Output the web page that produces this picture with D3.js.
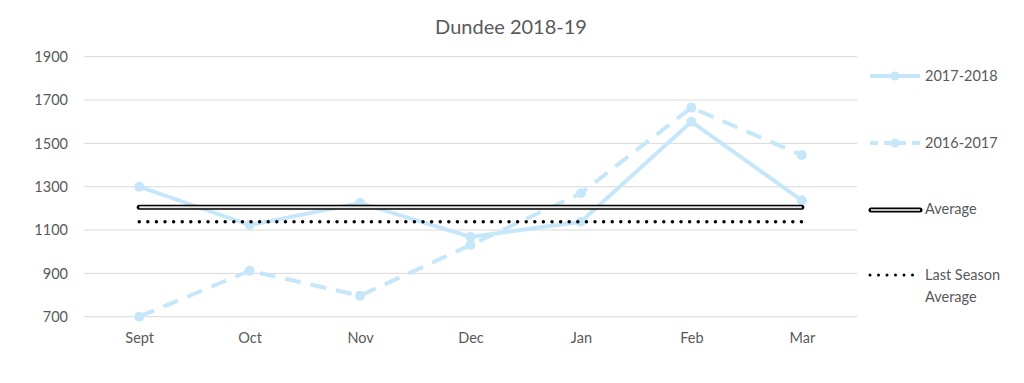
<!DOCTYPE html>
<html lang="en">
<head>
<meta charset="utf-8" />
<title>Dundee 2018-19</title>
<style>
  body { margin: 0; background: #fff; }
  svg text { font-family: Lato, "Open Sans", sans-serif; fill: #595959; }
</style>
<script src="https://cdn.jsdelivr.net/npm/d3@7"></script>
</head>
<body>
<script>
// data
var months = ['Sept', 'Oct', 'Nov', 'Dec', 'Jan', 'Feb', 'Mar'];
var season1718 = [1300, 1123, 1225, 1068, 1138, 1600, 1237];
var season1617 = [700, 912, 797, 1031, 1270, 1665, 1446];
var average = 1205;
var lastSeasonAverage = 1138;
var yTicks = [700, 900, 1100, 1300, 1500, 1700, 1900];

var width = 1024, height = 383;
var plotLeft = 84, plotRight = 857, plotTop = 56.7, plotBottom = 316.7;
var blue = '#c6e7fa';

var svg = d3.select('body').append('svg')
    .attr('width', width)
    .attr('height', height);

var x = d3.scalePoint().domain(months).range([plotLeft, plotRight]).padding(0.5);
var y = d3.scaleLinear().domain([700, 1900]).range([plotBottom, plotTop]);

// title
svg.append('text')
    .attr('x', 511).attr('y', 34)
    .attr('text-anchor', 'middle')
    .style('font-size', '20px')
    .text('Dundee 2018-19');

// gridlines
svg.append('g')
    .selectAll('line')
    .data(yTicks)
    .enter().append('line')
    .attr('x1', plotLeft).attr('x2', plotRight)
    .attr('y1', function(d) { return y(d); })
    .attr('y2', function(d) { return y(d); })
    .attr('stroke', '#d9d9d9').attr('stroke-width', 1);

// y axis
var yAxis = svg.append('g')
    .attr('transform', 'translate(' + plotLeft + ',0)')
    .call(d3.axisLeft(y).tickValues(yTicks).tickFormat(d3.format('d')).tickSize(0).tickPadding(16));
yAxis.select('.domain').remove();
yAxis.selectAll('text').style('font-size', '14.5px').attr('fill', '#595959');

// x axis
var xAxis = svg.append('g')
    .attr('transform', 'translate(0,' + plotBottom + ')')
    .call(d3.axisBottom(x).tickSize(0).tickPadding(16));
xAxis.select('.domain').remove();
xAxis.selectAll('text').style('font-size', '14.5px').attr('fill', '#595959');

var line = d3.line()
    .x(function(d, i) { return x(months[i]); })
    .y(function(d) { return y(d); });

// 2016-2017 dashed
svg.append('path')
    .datum(season1617)
    .attr('d', line)
    .attr('fill', 'none')
    .attr('stroke', blue).attr('stroke-width', 4)
    .attr('stroke-dasharray', '16,10');

svg.append('g').selectAll('circle')
    .data(season1617)
    .enter().append('circle')
    .attr('cx', function(d, i) { return x(months[i]); })
    .attr('cy', function(d) { return y(d); })
    .attr('r', 5).attr('fill', blue);

// 2017-2018 solid
svg.append('path')
    .datum(season1718)
    .attr('d', line)
    .attr('fill', 'none')
    .attr('stroke', blue).attr('stroke-width', 4);

svg.append('g').selectAll('circle')
    .data(season1718)
    .enter().append('circle')
    .attr('cx', function(d, i) { return x(months[i]); })
    .attr('cy', function(d) { return y(d); })
    .attr('r', 5).attr('fill', blue);

// average: outlined bar
var ends = [months[0], months[months.length - 1]];
var avgLine = d3.line()
    .x(function(d) { return x(d); })
    .y(function() { return y(average); });
svg.append('path')
    .datum(ends)
    .attr('d', avgLine)
    .attr('fill', 'none')
    .attr('stroke', '#000').attr('stroke-width', 5)
    .attr('stroke-linecap', 'round');
svg.append('path')
    .datum(ends)
    .attr('d', avgLine)
    .attr('fill', 'none')
    .attr('stroke', '#e8e8e8').attr('stroke-width', 2);

// last season average: dotted
svg.append('path')
    .datum(ends)
    .attr('d', d3.line()
        .x(function(d) { return x(d); })
        .y(function() { return y(lastSeasonAverage); }))
    .attr('fill', 'none')
    .attr('stroke', '#000').attr('stroke-width', 3.5)
    .attr('stroke-linecap', 'round')
    .attr('stroke-dasharray', '0,8.6');

// legend
var legend = svg.append('g');
var lx1 = 870, lx2 = 920, tx = 925;

function legendSwatch(yPos, dashed) {
    legend.append('line')
        .attr('x1', lx1).attr('x2', lx2).attr('y1', yPos).attr('y2', yPos)
        .attr('stroke', blue).attr('stroke-width', 4)
        .attr('stroke-dasharray', dashed ? '8,6' : null);
    legend.append('circle')
        .attr('cx', (lx1 + lx2) / 2).attr('cy', yPos).attr('r', 4.5)
        .attr('fill', blue);
}

legendSwatch(76, false);
legend.append('text').attr('x', tx).attr('y', 81).style('font-size', '14.5px').text('2017-2018');

legendSwatch(143, true);
legend.append('text').attr('x', tx).attr('y', 148).style('font-size', '14.5px').text('2016-2017');

legend.append('line')
    .attr('x1', lx1 + 1).attr('x2', lx2).attr('y1', 210).attr('y2', 210)
    .attr('stroke', '#000').attr('stroke-width', 5).attr('stroke-linecap', 'round');
legend.append('line')
    .attr('x1', lx1 + 1).attr('x2', lx2).attr('y1', 210).attr('y2', 210)
    .attr('stroke', '#bfbfbf').attr('stroke-width', 2);
legend.append('text').attr('x', tx).attr('y', 214).style('font-size', '14.5px').text('Average');

legend.append('line')
    .attr('x1', lx1).attr('x2', lx2).attr('y1', 275).attr('y2', 275)
    .attr('stroke', '#000').attr('stroke-width', 3)
    .attr('stroke-linecap', 'round').attr('stroke-dasharray', '0,8.5');
legend.append('text').attr('x', tx).attr('y', 280).style('font-size', '14.5px').text('Last Season');
legend.append('text').attr('x', tx).attr('y', 302).style('font-size', '14.5px').text('Average');
</script>
</body>
</html>
